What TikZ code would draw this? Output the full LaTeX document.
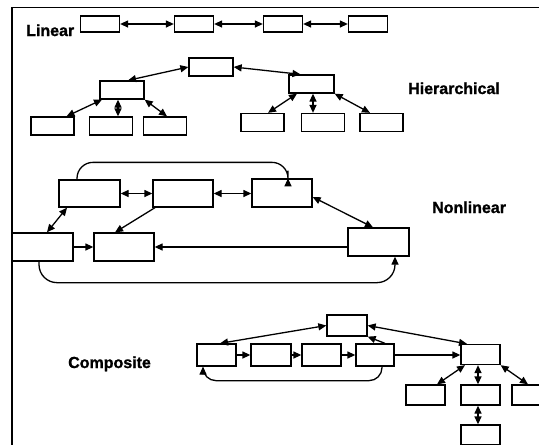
\documentclass[tikz,border=0pt]{standalone}
\usepackage{fontspec}
\setmainfont{Liberation Sans}[BoldFeatures={FakeBold=1.2}]
\usetikzlibrary{arrows.meta,calc}
\tikzset{
  bx/.style={draw, rectangle, line width=1.3pt, inner sep=0pt},
  lbl/.style={font=\bfseries\fontsize{16}{19}\selectfont, inner sep=0pt, anchor=base west},
  ln/.style={line width=1.3pt},
  tip/.style={},
  dbl/.style={ln, {Triangle[length=8pt,width=7pt]}-{Triangle[length=8pt,width=7pt]}},
  arr/.style={ln, -{Triangle[length=8pt,width=7pt]}},
}
\newcommand\bxat[5]{\node[bx, minimum width=#4, minimum height=#5] (#1) at (#2,#3) {};}
\begin{document}
\begin{tikzpicture}[x=1pt,y=-1pt]
\clip (0,0) rectangle (539,445);
\fill[white] (0,0) rectangle (539,445);
\draw[line width=1.5pt] (539,7.5) -- (12,7.5) -- (12,446);

% Linear
\node[lbl] (tlin) at (26,36) {Linear};
\bxat{L1}{100}{24}{39}{16}
\bxat{L2}{194}{24}{39}{16}
\bxat{L3}{283}{24}{39}{16}
\bxat{L4}{368}{24}{39}{16}
\draw[dbl] (L1.east) -- (L2.west);
\draw[dbl] (L2.east) -- (L3.west);
\draw[dbl] (L3.east) -- (L4.west);

% Hierarchical
\node[lbl] (thier) at (408,94) {Hierarchical};
\bxat{H0}{211}{67}{44}{18}
\bxat{H1}{122}{90}{44}{18}
\bxat{H2}{311.5}{84}{45}{18}
\bxat{C1}{52.5}{126}{43}{18}
\bxat{C2}{111}{126}{43}{18}
\bxat{C3}{165}{126}{43}{18}
\bxat{D1}{262.5}{122.5}{43}{18}
\bxat{D2}{323}{122.5}{43}{18}
\bxat{D3}{381.5}{122.5}{43}{18}
\draw[dbl] (H0.west) -- ([xshift=6]H1.north);
\draw[dbl] (H0.east) -- ([xshift=-11]H2.north);
\draw[dbl] ([xshift=-20]H1.south) -- ([xshift=14]C1.north);
\draw[dbl] ([xshift=-4]H1.south) -- ([xshift=7]C2.north);
\draw[dbl] (H1.south east) -- ([xshift=2]C3.north);
\draw[dbl] ([xshift=-14.5]H2.south) -- ([xshift=5.5]D1.north);
\draw[dbl] ([xshift=1.5]H2.south) -- ([xshift=-10]D2.north);
\draw[dbl] (H2.south east) -- ([xshift=-11.5]D3.north);

% Nonlinear
\node[lbl] (tnon) at (432,213) {Nonlinear};
\bxat{N1}{89.5}{193.5}{61}{27}
\bxat{N2}{183}{193.5}{60}{27}
\bxat{N3}{282}{193}{60}{28}
\bxat{N4}{42.5}{247}{61}{28}
\bxat{N5}{124}{247}{60}{28}
\bxat{N6}{378.5}{242}{61}{28}
\draw[dbl] (N1.east) -- (N2.west);
\draw[dbl] (N2.east) -- (N2.east -| N3.west);
\draw[dbl] ([xshift=-22.5]N1.south) -- ([xshift=4.5]N4.north);
\draw[arr] ([xshift=-28]N2.south) -- ([xshift=-9]N5.north);
\draw[dbl] ([yshift=-4]N3.east) -- ([xshift=-5.5]N6.north);
\draw[arr] (N6.west |- N5.east) -- (N5.east);
\draw[arr] (N4.east) -- (N5.west);
\draw[arr, rounded corners=16] ([xshift=-12.5]N1.north) -- ++(0,-17) -| ([xshift=6]N3.north);
\draw[arr, rounded corners=18] ([xshift=-3.5]N4.south) -- ++(0,21) -| ([xshift=16.5]N6.south);

% Composite
\node[lbl] (tcomp) at (68,368) {Composite};
\bxat{P0}{347}{325.5}{40}{21}
\bxat{Q1}{216.5}{355}{39}{22}
\bxat{Q2}{271}{355}{40}{22}
\bxat{Q3}{321.5}{355}{39}{22}
\bxat{Q4}{375}{355}{38}{22}
\bxat{R}{480.5}{354.5}{39}{20}
\bxat{S1}{425.5}{395}{39}{20}
\bxat{S2}{480.5}{395}{39}{20}
\bxat{S3}{531.5}{395}{39}{20}
\bxat{S4}{480.5}{435}{39}{20}
\draw[dbl] (P0.west) -- ([xshift=3.5]Q1.north);
\draw[arr] (Q1.east) -- (Q2.west);
\draw[arr] (Q2.east) -- (Q3.west);
\draw[arr] (Q3.east) -- (Q4.west);
\draw[arr] ([xshift=10]Q4.north) -- (P0.south east);
\draw[dbl] (P0.east) -- ([xshift=-13.5]R.north);
\draw[arr] (Q4.east) -- (Q4.east -| R.west);
\draw[arr, rounded corners=13] ([xshift=7]Q4.south) -- ++(0,14) -| ([xshift=-13.5]Q1.south);
\draw[dbl] ([xshift=-15.5]R.south) -- ([xshift=11.5]S1.north);
\draw[dbl] ([xshift=-2.5]R.south) -- ([xshift=-2.5]S2.north);
\draw[dbl] (R.south east) -- ([xshift=-3.5]S3.north);
\draw[dbl] ([xshift=-2.5]S2.south) -- ([xshift=-2.5]S4.north);
\end{tikzpicture}
\end{document}
